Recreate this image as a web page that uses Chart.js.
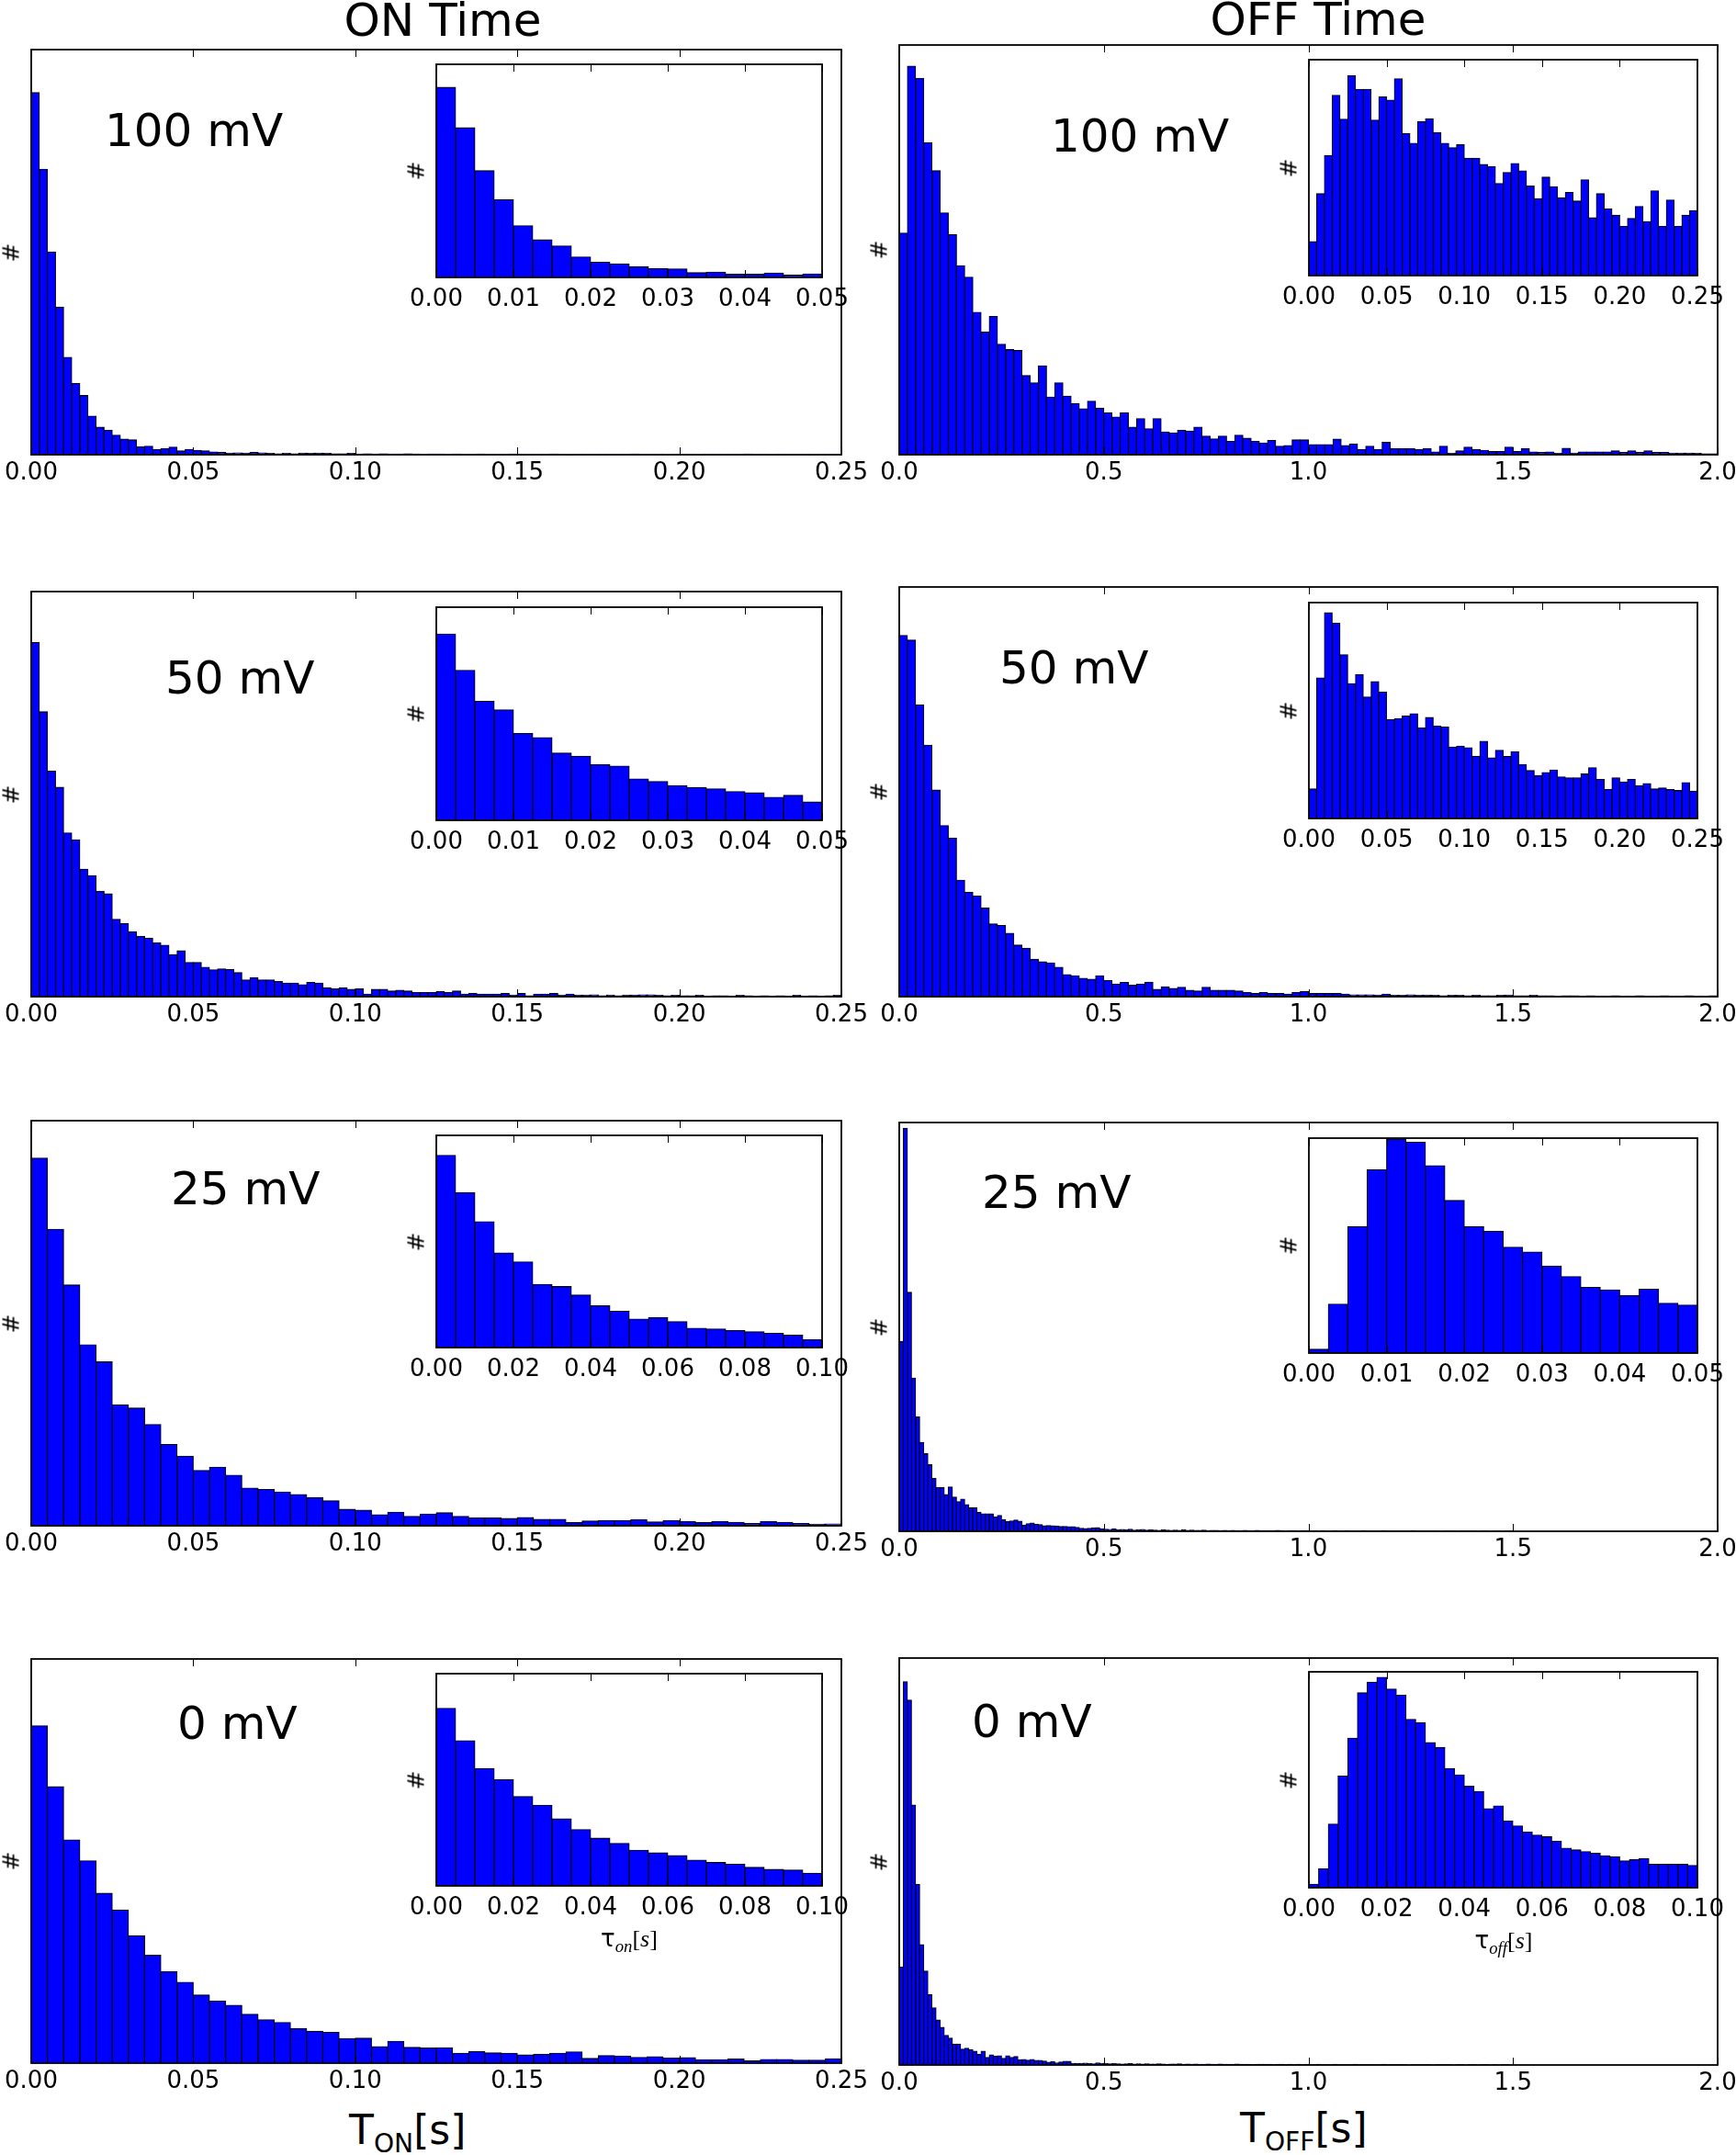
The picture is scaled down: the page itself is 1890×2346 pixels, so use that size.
<!DOCTYPE html>
<html><head><meta charset="utf-8">
<script src="https://cdn.jsdelivr.net/npm/chart.js@4.4.1/dist/chart.umd.min.js"></script>
<style>
html,body{margin:0;padding:0;background:#fff;}
body{width:1890px;height:2346px;position:relative;overflow:hidden;font-family:"DejaVu Sans",sans-serif;color:#000;}
canvas{position:absolute;}
.t{position:absolute;white-space:nowrap;line-height:1;color:#000;font-family:"DejaVu Sans",sans-serif;}
.ttl{font-size:50px;transform:translateX(-50%);}
.ann{font-size:50px;}
.hash{font-size:25px;transform:translate(-50%,-50%) rotate(-90deg);}
.xt{font-size:44px;}
.xt .sb{font-size:0.64em;position:relative;top:0.32em;}
.tau{font-size:26px;transform:translateX(-50%);}
.tau .sb{font-family:"Liberation Serif",serif;font-style:italic;font-size:0.72em;position:relative;top:0.3em;}
.tau .br{font-family:"Liberation Serif",serif;}
</style></head><body>

<div class="t ttl" style="left:482px;top:-3px;">ON Time</div>
<div class="t ttl" style="left:1435px;top:-4px;">OFF Time</div>

<div class="t ann" style="left:114px;top:117px;">100 mV</div>
<div class="t ann" style="left:1144px;top:123px;">100 mV</div>
<div class="t ann" style="left:180px;top:713px;">50 mV</div>
<div class="t ann" style="left:1088px;top:702px;">50 mV</div>
<div class="t ann" style="left:186px;top:1269px;">25 mV</div>
<div class="t ann" style="left:1069px;top:1273px;">25 mV</div>
<div class="t ann" style="left:193px;top:1851px;">0 mV</div>
<div class="t ann" style="left:1058px;top:1849px;">0 mV</div>

<div class="t xt" style="left:380px;top:2297px;">T<span class="sb">ON</span>[s]</div>
<div class="t xt" style="left:1350px;top:2295px;">T<span class="sb">OFF</span>[s]</div>

<script>
// ---------------- tick values and labels ----------------
const ticksOnMain = [0, 0.05, 0.10, 0.15, 0.20, 0.25];
const labelsOnMain = ['0.00', '0.05', '0.10', '0.15', '0.20', '0.25'];
const ticksOffMain = [0, 0.5, 1.0, 1.5, 2.0];
const labelsOffMain = ['0.0', '0.5', '1.0', '1.5', '2.0'];
const ticksInsetA = [0, 0.01, 0.02, 0.03, 0.04, 0.05];
const labelsInsetA = ['0.00', '0.01', '0.02', '0.03', '0.04', '0.05'];
const ticksInsetB = [0, 0.02, 0.04, 0.06, 0.08, 0.10];
const labelsInsetB = ['0.00', '0.02', '0.04', '0.06', '0.08', '0.10'];
const ticksInsetC = [0, 0.05, 0.10, 0.15, 0.20, 0.25];
const labelsInsetC = ['0.00', '0.05', '0.10', '0.15', '0.20', '0.25'];

// ---------------- bin widths (s) ----------------
const binOn100 = 0.0025, binOn50 = 0.0025, binOn25 = 0.005, binOn0 = 0.005;
const binOff100 = 0.02, binOff50 = 0.02, binOff25 = 0.01, binOff0 = 0.01;
const binOn100In = 0.0025, binOn50In = 0.0025, binOn25In = 0.005, binOn0In = 0.005;
const binOff100In = 0.005, binOff50In = 0.005, binOff25In = 0.0025, binOff0In = 0.0025;

// ---------------- histogram counts (arbitrary units, # axis has no ticks) ----------------
const on100Main = [1144,902,640,466,308,225,187,122,87,77,62,49,47,25,27,17,19,24,12,17,14,12,9,7,5,
 6,5,7,6,4,3,4,3,5,4,5,4,3,3,4,2,3,2,3,2,2,3,2,1,2,
 2,1,2,1,1,2,1,1,1,2,1,1,1,1,2,1,0,1,1,1,1,1,1,1,2,1,1,1,0,1,
 1,1,0,1,1,1,1,1,2,1,1,0,1,1,1,1,0,1,1,1];
const on100Inset = [602,474,338,246,164,119,100,65,48,43,34,28,27,15,17,10,10,14,7,11];

const off100Main = [700,1227,1189,985,897,764,695,597,561,450,
 387,437,349,332,329,250,227,281,182,227,
 185,162,145,169,147,132,119,132,87,114,
 82,114,72,69,77,75,87,59,50,59,
 42,62,52,42,37,45,27,29,47,47,
 32,32,32,49,29,34,17,27,17,39,
 19,19,19,17,19,9,27,4,12,24,
 17,14,10,10,24,10,19,9,7,9,
 4,20,5,9,9,9,9,12,7,12,
 7,12,7,7,5,5,5,4,3,3];
const off100Inset = [107,258,378,568,493,630,587,587,490,563,
 553,620,447,417,485,494,450,417,403,412,
 370,370,350,343,290,325,353,330,282,242,
 310,280,245,262,235,302,182,258,210,190,
 155,180,218,170,267,155,238,155,190,205];

const on50Main = [1120,901,713,662,518,496,403,383,333,325,
 245,231,205,191,185,170,163,133,145,108,
 108,93,85,88,86,76,53,60,53,53,
 48,43,43,38,45,43,28,25,28,23,
 25,8,23,23,18,20,18,13,13,13,
 16,13,18,8,10,8,8,8,10,5,
 10,3,8,8,10,5,8,5,5,6,
 3,5,3,5,5,6,6,4,3,4,
 3,3,4,2,3,3,2,4,3,2,
 3,2,3,2,4,2,3,2,3,4];
const on50Inset = [590,475,377,350,275,262,213,203,176,172,131,123,110,104,100,91,87,73,79,58];

const off50Main = [1142,1127,922,795,653,541,501,368,330,318,
 280,230,225,200,163,153,118,110,107,93,
 70,66,58,55,66,51,40,45,36,40,
 46,23,31,26,30,20,18,30,20,20,
 20,18,13,10,13,10,10,8,13,16,
 10,10,10,10,8,6,6,6,5,8,
 4,4,6,4,5,4,3,4,4,3,
 4,3,3,4,5,3,3,4,3,3,
 2,3,3,2,3,2,2,3,2,2,
 3,2,2,3,2,2,3,2,2,3];
const off50Inset = [93,443,648,615,516,425,453,383,431,398,
 311,315,323,330,285,318,291,288,225,228,
 223,196,243,191,215,195,210,170,151,135,
 145,153,131,128,128,140,160,123,92,128,
 115,123,103,110,93,96,91,88,113,86];

const on25Main = [1162,937,761,572,518,382,372,320,257,220,
 175,185,160,119,115,107,99,89,79,52,
 49,35,43,30,37,41,30,25,25,23,
 26,20,20,10,15,17,17,19,12,17,
 13,10,13,11,7,13,11,7,5,6];
const on25Inset = [608,490,398,299,271,200,193,166,132,115,90,95,82,61,59,54,50,45,39,25];

const off25Main = [620,1315,780,500,373,290,253,217,173,143,
 143,120,145,112,97,105,87,77,77,62,
 57,57,57,47,52,38,32,34,37,33,
 20,25,27,23,22,18,19,18,17,16,
 16,15,15,13,10,9,10,11,12,8,
 7,6,8,5,6,5,7,4,5,6,
 4,5,4,3,5,4,3,4,3,5,
 3,4,3,3,4,2,3,3,2,3,
 2,3,2,2,3,2,2,3,2,2,
 2,2,3,2,1,2,2,1,2,2,
 1,2,1,2,1,1,2,1,1,2,
 1,1,1,2,1,1,1,1,2,1,
 1,1,1,1,1,2,1,1,1,1,
 1,1,0,1,1,1,0,1,1,1,
 1,0,1,1,0,1,1,0,1,1];
const off25Inset = [12,155,400,580,677,667,593,483,400,385,335,320,275,242,208,200,182,202,158,152];

const on0Main = [985,807,652,591,496,447,372,315,267,236,
 199,181,169,143,127,119,101,93,90,72,
 73,48,64,46,44,45,29,34,30,29,
 24,26,29,33,14,22,21,17,19,15,
 16,10,10,12,7,11,11,9,9,13];
const on0Inset = [517,423,342,309,260,235,195,164,139,124,104,96,88,75,68,63,54,48,46,37];

const off0Main = [320,1253,1193,850,590,393,307,230,187,147,
 123,97,88,68,68,52,55,50,45,35,
 45,25,33,29,30,22,30,25,28,17,
 18,16,18,15,15,13,9,11,7,10,
 12,12,5,5,5,6,5,4,7,5,
 5,4,5,4,3,4,5,3,4,3,
 4,3,3,4,3,2,3,3,4,2,
 3,2,3,2,2,3,2,2,3,2,
 2,2,3,2,2,2,1,2,2,2,
 2,1,2,2,1,2,1,2,1,2,
 1,1,2,1,1,1,2,1,1,1,
 1,2,1,1,1,1,1,1,2,1,
 1,1,1,1,0,1,1,1,1,1,
 0,1,1,1,1,0,1,1,0,1,
 1,0,1,1,0,1,0,1,1,0];
const off0Inset = [10,55,185,325,435,567,598,612,578,560,
 490,480,422,408,347,328,295,280,230,238,
 194,180,162,153,148,135,115,110,105,100,
 93,90,78,82,85,68,68,68,68,65];

// ---------------- drawing ----------------
Chart.defaults.font.family = 'DejaVu Sans';
Chart.defaults.color = '#000';

const framePlugin = {
  id: 'frame',
  beforeDatasetsDraw(chart, args, opts) {
    if (opts.fill) {
      const a = chart.chartArea, ctx = chart.ctx;
      ctx.save(); ctx.fillStyle = '#fff';
      ctx.fillRect(a.left, a.top, a.width, a.height);
      ctx.restore();
    }
  },
  afterDraw(chart) {
    const ctx = chart.ctx, a = chart.chartArea, x = chart.scales.x;
    ctx.save();
    ctx.strokeStyle = '#000';
    ctx.lineWidth = 1;
    x.ticks.forEach(t => {
      const px = Math.round(x.getPixelForValue(t.value)) + 0.5;
      ctx.beginPath();
      ctx.moveTo(px, a.bottom); ctx.lineTo(px, a.bottom - 8);
      ctx.moveTo(px, a.top); ctx.lineTo(px, a.top + 8);
      ctx.stroke();
    });
    ctx.lineWidth = 1.8;
    ctx.strokeRect(a.left, a.top, a.width, a.height);
    ctx.restore();
  }
};

function addHash(cx, cy) {
  const d = document.createElement('div');
  d.className = 't hash';
  d.style.left = cx + 'px'; d.style.top = cy + 'px';
  d.textContent = '#';
  document.body.appendChild(d);
}

function makeHist(p) {
  const mL = 48, mR = 48, mT = 12, mB = 52;
  const w = p.box[2] - p.box[0], h = p.box[3] - p.box[1];
  const cv = document.createElement('canvas');
  cv.width = w + mL + mR; cv.height = h + mT + mB;
  cv.style.left = (p.box[0] - mL) + 'px';
  cv.style.top = (p.box[1] - mT) + 'px';
  cv.style.width = cv.width + 'px'; cv.style.height = cv.height + 'px';
  document.body.appendChild(cv);
  const pts = p.values.map((v, i) => ({ x: p.min + (i + 0.5) * p.bin, y: v }));
  new Chart(cv, {
    type: 'bar',
    data: { datasets: [{
      data: pts, backgroundColor: '#0000ff', borderColor: '#000000',
      borderWidth: 1.1, borderSkipped: false, barPercentage: 1, categoryPercentage: 1,
      inflateAmount: 0.5
    }]},
    options: {
      responsive: false, animation: false, devicePixelRatio: 1, events: [],
      layout: { padding: { left: mL, right: mR, top: mT, bottom: 0 } },
      plugins: { legend: { display: false }, tooltip: { enabled: false }, frame: { fill: !!p.inset } },
      scales: {
        x: {
          type: 'linear', min: p.min, max: p.max, offset: false,
          grid: { display: false, drawTicks: false }, border: { display: false },
          afterBuildTicks: s => { s.ticks = p.ticks.map(v => ({ value: v })); },
          afterFit: s => { s.height = mB; },
          ticks: {
            autoSkip: false, maxRotation: 0, minRotation: 0, padding: p.inset ? 8.6 : 4.6,
            color: '#000', font: { family: 'DejaVu Sans', size: 26 },
            callback: (v, i) => p.labels[i]
          }
        },
        y: { display: false, min: 0, max: p.ymax }
      }
    },
    plugins: [framePlugin]
  });
  addHash(p.box[0] - 22, (p.box[1] + p.box[3]) / 2);
}

const panels = [
  { box: [34, 54, 916, 495], values: on100Main, bin: binOn100, min: 0, max: 0.25, ticks: ticksOnMain, labels: labelsOnMain, ymax: 1280 },
  { box: [475, 70, 895, 302], values: on100Inset, bin: binOn100In, min: 0, max: 0.05, ticks: ticksInsetA, labels: labelsInsetA, ymax: 675, inset: true },
  { box: [979, 49, 1870, 495], values: off100Main, bin: binOff100, min: 0, max: 2.0, ticks: ticksOffMain, labels: labelsOffMain, ymax: 1294 },
  { box: [1425, 65, 1848, 300], values: off100Inset, bin: binOff100In, min: 0, max: 0.25, ticks: ticksInsetC, labels: labelsInsetC, ymax: 680, inset: true },

  { box: [34, 644, 916, 1085], values: on50Main, bin: binOn50, min: 0, max: 0.25, ticks: ticksOnMain, labels: labelsOnMain, ymax: 1281 },
  { box: [475, 661, 895, 893], values: on50Inset, bin: binOn50In, min: 0, max: 0.05, ticks: ticksInsetA, labels: labelsInsetA, ymax: 675, inset: true },
  { box: [979, 639, 1870, 1085], values: off50Main, bin: binOff50, min: 0, max: 2.0, ticks: ticksOffMain, labels: labelsOffMain, ymax: 1295 },
  { box: [1425, 656, 1848, 891], values: off50Inset, bin: binOff50In, min: 0, max: 0.25, ticks: ticksInsetC, labels: labelsInsetC, ymax: 680, inset: true },

  { box: [34, 1220, 916, 1661], values: on25Main, bin: binOn25, min: 0, max: 0.25, ticks: ticksOnMain, labels: labelsOnMain, ymax: 1280 },
  { box: [475, 1236, 895, 1467], values: on25Inset, bin: binOn25In, min: 0, max: 0.10, ticks: ticksInsetB, labels: labelsInsetB, ymax: 671, inset: true },
  { box: [979, 1222, 1870, 1667], values: off25Main, bin: binOff25, min: 0, max: 2.0, ticks: ticksOffMain, labels: labelsOffMain, ymax: 1334 },
  { box: [1425, 1239, 1848, 1473], values: off25Inset, bin: binOff25In, min: 0, max: 0.05, ticks: ticksInsetA, labels: labelsInsetA, ymax: 680, inset: true },

  { box: [34, 1806, 916, 2246], values: on0Main, bin: binOn0, min: 0, max: 0.25, ticks: ticksOnMain, labels: labelsOnMain, ymax: 1180 },
  { box: [475, 1822, 895, 2053], values: on0Inset, bin: binOn0In, min: 0, max: 0.10, ticks: ticksInsetB, labels: labelsInsetB, ymax: 618, inset: true },
  { box: [979, 1805, 1870, 2248], values: off0Main, bin: binOff0, min: 0, max: 2.0, ticks: ticksOffMain, labels: labelsOffMain, ymax: 1330 },
  { box: [1425, 1820, 1848, 2055], values: off0Inset, bin: binOff0In, min: 0, max: 0.10, ticks: ticksInsetB, labels: labelsInsetB, ymax: 628, inset: true }
];
panels.forEach(makeHist);

// inset x-axis labels (bottom row)
function addTau(cx, top, sub) {
  const d = document.createElement('div');
  d.className = 't tau';
  d.style.left = cx + 'px'; d.style.top = top + 'px';
  d.innerHTML = 'τ<span class="sb">' + sub + '</span><span class="br">[<i>s</i>]</span>';
  document.body.appendChild(d);
}
addTau(685, 2097, 'on');
addTau(1637, 2099, 'off');
</script>
</body></html>
